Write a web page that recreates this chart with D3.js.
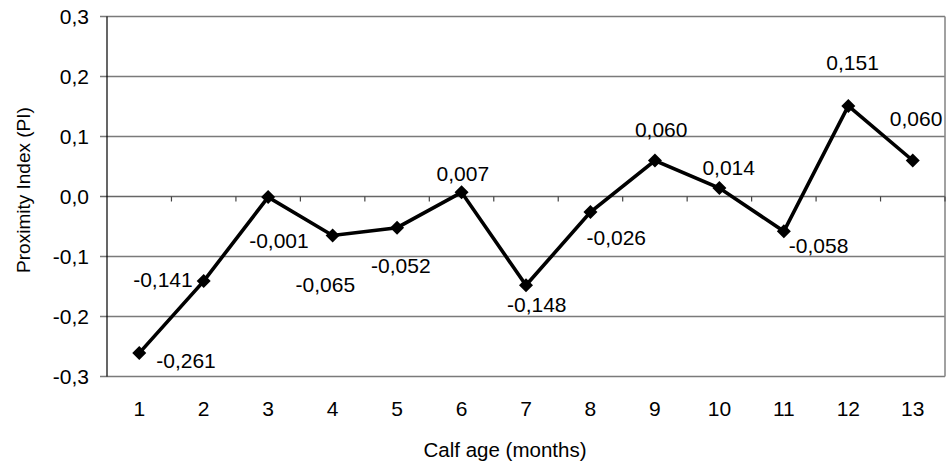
<!DOCTYPE html>
<html><head><meta charset="utf-8">
<script src="https://cdn.jsdelivr.net/npm/d3@7"></script>
<style>body{margin:0;background:#fff}svg{display:block}text{font-family:"Liberation Sans",Arial,sans-serif;fill:#000}</style>
</head><body>
<svg id="c" width="947" height="466"></svg>
<script>
const months = ["1","2","3","4","5","6","7","8","9","10","11","12","13"];
const piValues = [-0.261,-0.141,-0.001,-0.065,-0.052,0.007,-0.148,-0.026,0.060,0.014,-0.058,0.151,0.060];
const valueLabels = ["-0,261","-0,141","-0,001","-0,065","-0,052","0,007","-0,148","-0,026","0,060","0,014","-0,058","0,151","0,060"];
const yTicks = [-0.3,-0.2,-0.1,0,0.1,0.2,0.3];
const yTickLabels = ["-0,3","-0,2","-0,1","0,0","0,1","0,2","0,3"];
const xTitle = "Calf age (months)";
const yTitle = "Proximity Index (PI)";

// label placement offsets (dx, dy relative to point, anchor)
const labelPos = [
  [17,15,"start"],[-11,6,"end"],[-19,51,"start"],[-37,56,"start"],[-26,45,"start"],
  [-25,-11,"start"],[-19,27,"start"],[-4,33,"start"],[-20,-24,"start"],[-17,-13,"start"],
  [5,22,"start"],[-22,-36,"start"],[-23,-35,"start"]
];

const svg = d3.select("#c");
const L = 107, R = 945, T = 16.5, B = 376.5;
const x = d3.scaleBand().domain(months).range([L, R]).padding(0);
const y = d3.scaleLinear().domain([-0.3, 0.3]).range([B, T]);

svg.append("g").selectAll("line").data(yTicks.filter(v => v !== 0)).join("line")
  .attr("x1", L - 7).attr("x2", R).attr("y1", d => y(d)).attr("y2", d => y(d))
  .attr("stroke", "#7a7a7a").attr("stroke-width", 1.4);

svg.append("line").attr("x1", R).attr("x2", R).attr("y1", T).attr("y2", B)
  .attr("stroke", "#8a8a8a").attr("stroke-width", 1.6);

svg.append("line").attr("x1", L - 7).attr("x2", R).attr("y1", y(0)).attr("y2", y(0))
  .attr("stroke", "#666").attr("stroke-width", 1.4);
const bounds = months.map(m => x(m) + x.bandwidth());
svg.append("g").selectAll("line").data(bounds).join("line")
  .attr("x1", d => d).attr("x2", d => d).attr("y1", y(0)).attr("y2", y(0) + 5)
  .attr("stroke", "#444").attr("stroke-width", 1.2);

svg.append("line").attr("x1", L).attr("x2", L).attr("y1", T).attr("y2", B)
  .attr("stroke", "#000").attr("stroke-width", 1.2);

svg.append("g").selectAll("text").data(yTicks).join("text")
  .attr("x", L - 18).attr("y", d => y(d) + 7.5).attr("text-anchor", "end")
  .attr("font-size", 21).text((d, i) => yTickLabels[i]);

svg.append("g").selectAll("text").data(months).join("text")
  .attr("x", d => x(d) + x.bandwidth() / 2).attr("y", 416).attr("text-anchor", "middle")
  .attr("font-size", 21).text(d => d);

svg.append("text").attr("x", 505).attr("y", 457).attr("text-anchor", "middle")
  .attr("font-size", 20.5).text(xTitle);
svg.append("text").attr("transform", "translate(30,190) rotate(-90)").attr("text-anchor", "middle")
  .attr("font-size", 19).text(yTitle);

const cx = (d, i) => x(months[i]) + x.bandwidth() / 2;
svg.append("path").datum(piValues)
  .attr("d", d3.line().x(cx).y(d => y(d)))
  .attr("fill", "none").attr("stroke", "#000").attr("stroke-width", 3.6).attr("stroke-linejoin", "miter");

svg.append("g").selectAll("path").data(piValues).join("path")
  .attr("transform", (d, i) => `translate(${cx(d, i)},${y(d)})`)
  .attr("d", "M0,-7L7,0L0,7L-7,0Z").attr("fill", "#000");

svg.append("g").selectAll("text").data(piValues).join("text")
  .attr("x", (d, i) => cx(d, i) + labelPos[i][0])
  .attr("y", (d, i) => y(d) + labelPos[i][1])
  .attr("text-anchor", (d, i) => labelPos[i][2])
  .attr("font-size", 21).text((d, i) => valueLabels[i]);
</script>
</body></html>
